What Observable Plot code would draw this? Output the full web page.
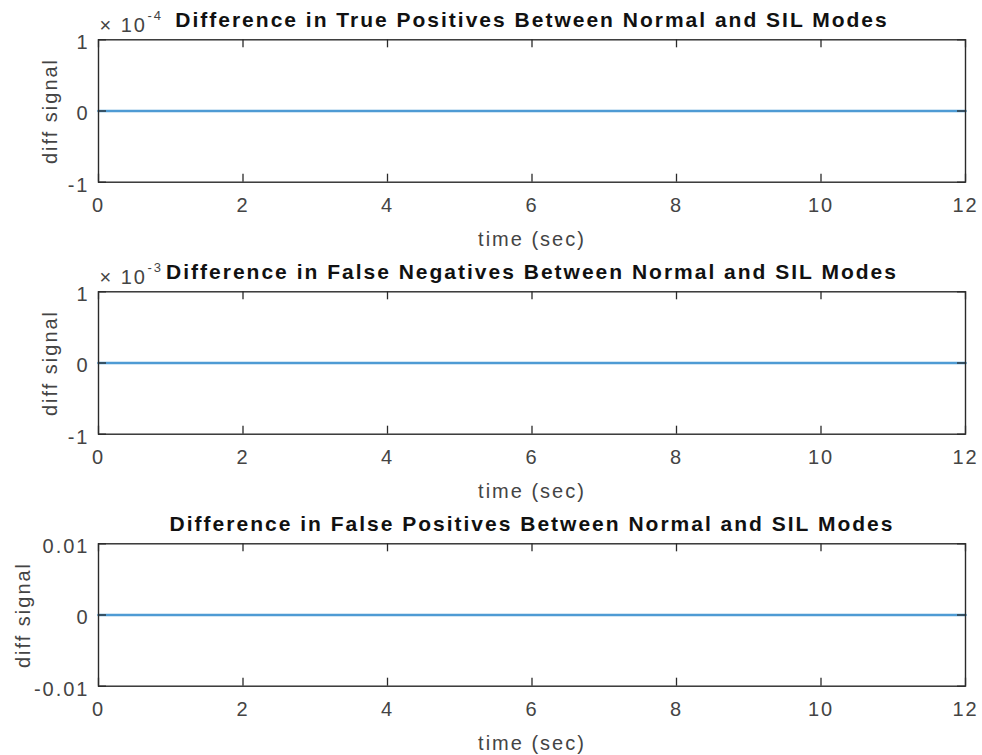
<!DOCTYPE html>
<html><head><meta charset="utf-8">
<script src="https://cdn.jsdelivr.net/npm/d3@7"></script>
<script src="https://cdn.jsdelivr.net/npm/@observablehq/plot@0.6"></script>
<style>
html,body{margin:0;padding:0;background:#fff;overflow:hidden;width:982px;height:755px}
svg{display:block}
</style>
</head><body><div id="chart"></div>
<script>
// ---- data ----
const time = [0, 1, 2, 3, 4, 5, 6, 7, 8, 9, 10, 11, 12];
const diffTruePositives  = [0, 0, 0, 0, 0, 0, 0, 0, 0, 0, 0, 0, 0];
const diffFalseNegatives = [0, 0, 0, 0, 0, 0, 0, 0, 0, 0, 0, 0, 0];
const diffFalsePositives = [0, 0, 0, 0, 0, 0, 0, 0, 0, 0, 0, 0, 0];
const titles = [
  "Difference in True Positives Between Normal and SIL Modes",
  "Difference in False Negatives Between Normal and SIL Modes",
  "Difference in False Positives Between Normal and SIL Modes"
];
const xTicks = [0, 2, 4, 6, 8, 10, 12];
const yTicksTP = [-1e-4, 0, 1e-4];
const yTickLabelsTP = ["-1", "0", "1"];
const yTicksFN = [-1e-3, 0, 1e-3];
const yTickLabelsFN = ["-1", "0", "1"];
const yTicksFP = [-0.01, 0, 0.01];
const yTickLabelsFP = ["-0.01", "0", "0.01"];
const exponents = ["-4", "-3", null];
const xLabel = "time (sec)";
const yLabel = "diff signal";

// ---- drawing ----
const W = 982, ML = 98, MR = 17, MT = 39.3, PH = 142.4;
const axisColor = "#2a2a2a", textColor = "#444", lineColor = "#4e9bd4";

function panel({values, yTicks, yLabels, title, exponent, height, yLabelDx}) {
  const data = time.map((t, i) => ({t, v: values[i]}));
  const PW = W - ML - MR;
  const marks = [
    Plot.axisX({ticks: xTicks, tickSize: 0, tickPadding: 16, label: null, tickFormat: d => String(d), fill: textColor}),
    Plot.axisY({ticks: yTicks, tickSize: 0, tickPadding: 9, dy: 3, label: null, tickFormat: d => yLabels[yTicks.indexOf(d)], fill: textColor}),
    Plot.line(data, {x: "t", y: "v", stroke: lineColor, strokeWidth: 2.6}),
    Plot.tickX(xTicks, {x: d => d, insetBottom: PH - 8, stroke: axisColor, strokeWidth: 1.3}),
    Plot.tickX(xTicks, {x: d => d, insetTop: PH - 8, stroke: axisColor, strokeWidth: 1.3}),
    Plot.tickY(yTicks, {y: d => d, insetRight: PW - 8, stroke: axisColor, strokeWidth: 1.3}),
    Plot.tickY(yTicks, {y: d => d, insetLeft: PW - 8, stroke: axisColor, strokeWidth: 1.3}),
    Plot.frame({stroke: axisColor, strokeWidth: 1.4}),
    Plot.text([title], {text: d => d, frameAnchor: "top", lineAnchor: "middle", textAnchor: "middle", dy: -20, fontWeight: "bold", fontSize: 21, fill: "#111", ariaLabel: "ptitle"}),
    Plot.text([xLabel], {text: d => d, frameAnchor: "bottom", lineAnchor: "middle", textAnchor: "middle", dy: 57, fill: textColor}),
    Plot.text([yLabel], {text: d => d, frameAnchor: "left", lineAnchor: "middle", textAnchor: "middle", dx: yLabelDx, rotate: -90, fill: textColor})
  ];
  if (exponent) {
    marks.push(Plot.text(["× 10"], {text: d => d, frameAnchor: "top-left", lineAnchor: "middle", textAnchor: "start", dx: 1, dy: -14, fill: textColor}));
    marks.push(Plot.text([exponent], {text: d => d, frameAnchor: "top-left", lineAnchor: "middle", textAnchor: "start", dx: 49, dy: -24, fontSize: 13, fill: textColor}));
  }
  const svg = Plot.plot({
    width: W, height,
    marginLeft: ML, marginRight: MR, marginTop: MT, marginBottom: height - MT - PH,
    style: {fontFamily: "'Liberation Sans', Arial, Helvetica, sans-serif", fontSize: "20px", letterSpacing: "2px", color: textColor, background: "#fff"},
    x: {domain: [0, 12]},
    y: {domain: [yTicks[0], yTicks[yTicks.length - 1]]},
    marks
  });
  d3.select(svg).selectAll('[aria-label="ptitle"] text').style("letter-spacing", "1.8px");
  return svg;
}

const chart = document.getElementById("chart");
chart.append(panel({values: diffTruePositives, yTicks: yTicksTP, yLabels: yTickLabelsTP, title: titles[0], exponent: exponents[0], height: 252, yLabelDx: -47.5}));
chart.append(panel({values: diffFalseNegatives, yTicks: yTicksFN, yLabels: yTickLabelsFN, title: titles[1], exponent: exponents[1], height: 252, yLabelDx: -47.5}));
chart.append(panel({values: diffFalsePositives, yTicks: yTicksFP, yLabels: yTickLabelsFP, title: titles[2], exponent: exponents[2], height: 251, yLabelDx: -75}));
</script>
</body></html>
